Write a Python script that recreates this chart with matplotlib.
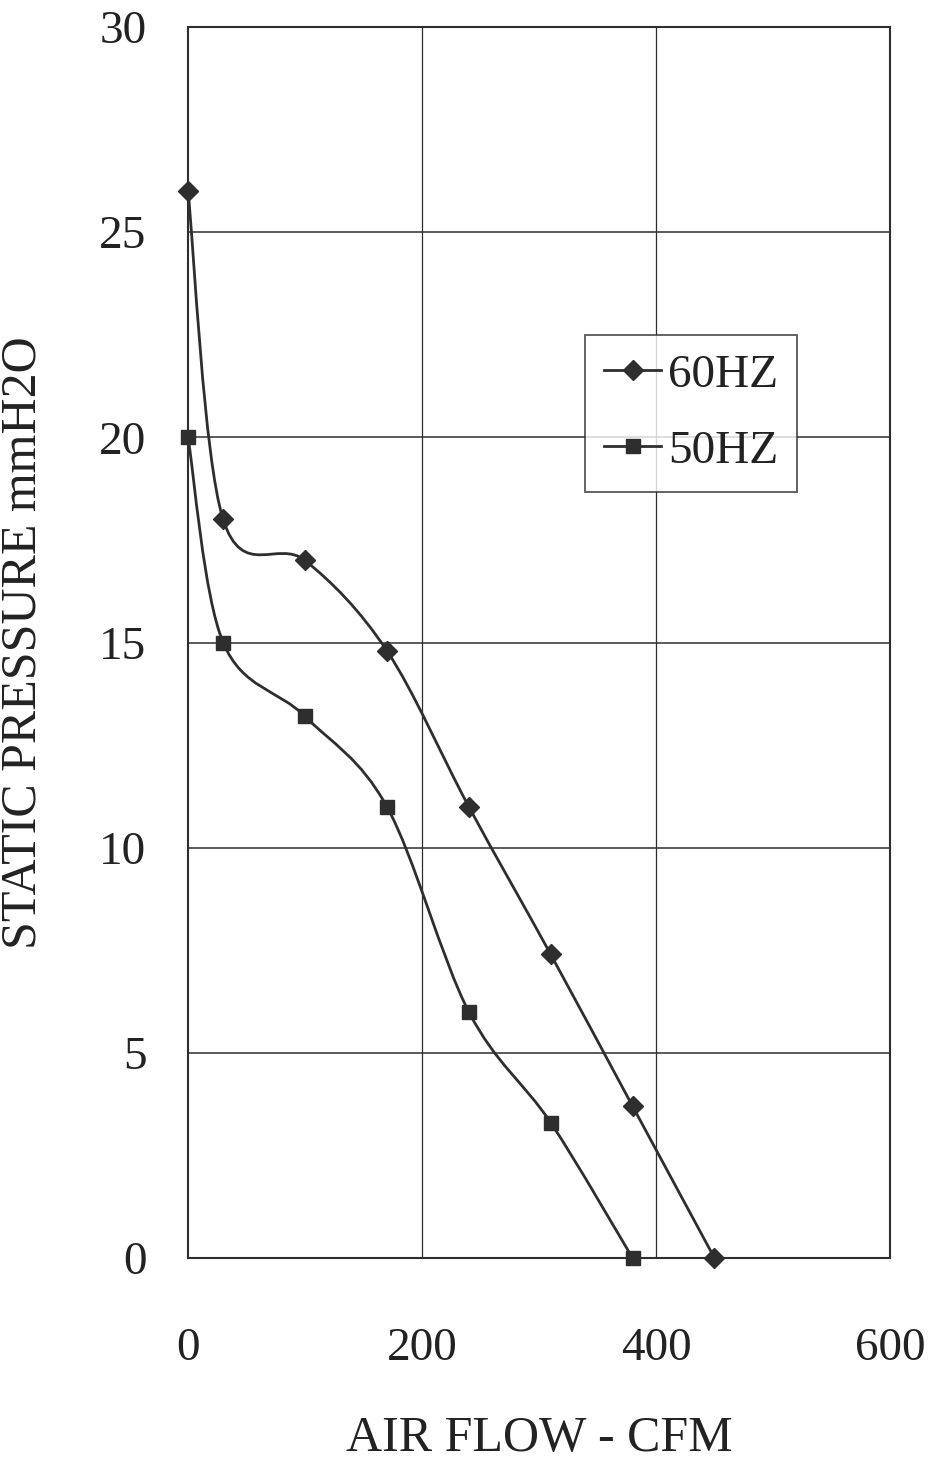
import matplotlib
matplotlib.use("Agg")
import matplotlib.pyplot as plt
from matplotlib.path import Path
from matplotlib.patches import PathPatch
from matplotlib.lines import Line2D

plt.rcParams['font.family'] = ['Liberation Serif', 'DejaVu Serif']

# Data
flow_60 = [0, 30, 100, 170, 240, 310, 380, 450]
press_60 = [26, 18, 17, 14.8, 11, 7.4, 3.7, 0]

flow_50 = [0, 30, 100, 170, 240, 310, 380]
press_50 = [20, 15, 13.2, 11, 6, 3.3, 0]

x_ticks = [0, 200, 400, 600]
y_ticks = [0, 5, 10, 15, 20, 25, 30]

ink = '#2e2e2e'


def smooth_path(xs, ys):
    # Bezier segments through the points (spline-style smoothed line)
    pts = list(zip(xs, ys))
    n = len(pts)
    verts = [pts[0]]
    codes = [Path.MOVETO]
    for i in range(n - 1):
        p0 = pts[max(i - 1, 0)]
        p1 = pts[i]
        p2 = pts[i + 1]
        p3 = pts[min(i + 2, n - 1)]
        c1 = (p1[0] + (p2[0] - p0[0]) / 6, p1[1] + (p2[1] - p0[1]) / 6)
        c2 = (p2[0] - (p3[0] - p1[0]) / 6, p2[1] - (p3[1] - p1[1]) / 6)
        verts += [c1, c2, p2]
        codes += [Path.CURVE4] * 3
    return Path(verts, codes)


fig = plt.figure(figsize=(9.29, 14.68), dpi=100)
ax = fig.add_axes([0.2024, 0.143, 0.7556, 0.8386])

ax.set_xlim(0, 600)
ax.set_ylim(0, 30)

# grid
for yv in y_ticks[1:-1]:
    ax.axhline(yv, color=ink, linewidth=1.1, zorder=1)
for xv in x_ticks[1:-1]:
    ax.axvline(xv, color=ink, linewidth=0.9, zorder=1)

ax.add_patch(PathPatch(smooth_path(flow_60, press_60), fill=False,
                       edgecolor=ink, linewidth=2.0, zorder=3, clip_on=False))
ax.add_patch(PathPatch(smooth_path(flow_50, press_50), fill=False,
                       edgecolor=ink, linewidth=2.0, zorder=3, clip_on=False))

ax.plot(flow_60, press_60, linestyle='none', marker='D', markersize=10,
        color=ink, zorder=4, clip_on=False)
ax.plot(flow_50, press_50, linestyle='none', marker='s', markersize=10,
        color=ink, zorder=4, clip_on=False)

ax.set_xticks(x_ticks)
ax.set_yticks(y_ticks)
ax.tick_params(length=0, labelsize=34, colors='#222222')
ax.tick_params(axis='x', pad=50)
ax.tick_params(axis='y', pad=30)

for sp in ax.spines.values():
    sp.set_color(ink)
    sp.set_linewidth(1.5)

ax.set_xlabel('AIR FLOW - CFM', fontsize=36, color='#222222', labelpad=33)
ax.set_ylabel('STATIC PRESSURE mmH2O', fontsize=36, color='#222222', labelpad=38)

handles = [
    Line2D([], [], color=ink, linewidth=2.0, marker='D', markersize=10),
    Line2D([], [], color=ink, linewidth=2.0, marker='s', markersize=10),
]
leg = ax.legend(handles, ['60HZ', '50HZ'], loc='upper left',
                bbox_to_anchor=(0.566, 0.750), fontsize=34, frameon=True,
                fancybox=False, handlelength=1.2, handletextpad=0.15,
                labelspacing=0.7, borderpad=0.4, borderaxespad=0)
leg.get_frame().set_edgecolor(ink)
leg.get_frame().set_linewidth(1.3)
for t in leg.get_texts():
    t.set_color('#222222')

fig.savefig('out.png', dpi=100, facecolor='white')
